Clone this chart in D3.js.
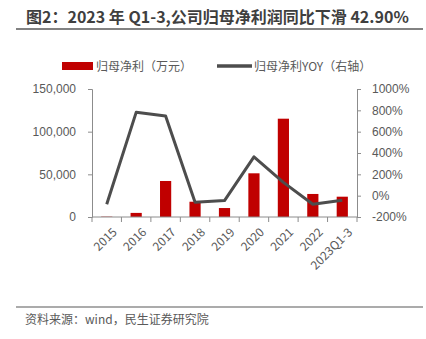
<!DOCTYPE html>
<html>
<head>
<meta charset="utf-8">
<script src="https://cdn.jsdelivr.net/npm/d3@7/dist/d3.min.js"></script>
<style>
  html, body { margin: 0; padding: 0; background: #fff; }
  svg { display: block; font-family: "Noto Sans CJK SC", "Noto Sans", sans-serif; }
</style>
</head>
<body>
<svg id="chart" width="426" height="339"></svg>
<script>
// 归母净利（万元）与同比增速
const categories = ["2015", "2016", "2017", "2018", "2019", "2020", "2021", "2022", "2023Q1-3"];
const netProfit = [400, 4800, 42200, 17900, 10500, 51200, 115200, 27000, 23800];
const netProfitYoY = [-81, 781, 746, -62, -46, 364, 125, -81, -42.9];
const leftTicks = [0, 50000, 100000, 150000];
const rightTicks = [-200, 0, 200, 400, 600, 800, 1000];

const svg = d3.select("#chart");
const W = 426, H = 339;
const margin = { left: 92, right: 69, top: 89, bottom: 122 };
const x0 = margin.left, x1 = W - margin.right;
const yTop = margin.top, yBot = H - margin.bottom;

const x = d3.scaleBand().domain(categories).range([x0, x1]).paddingInner(0.62).paddingOuter(0.31);
const xPt = d3.scaleBand().domain(categories).range([x0, x1]);
const yL = d3.scaleLinear().domain([0, 150000]).range([yBot, yTop]);
const yR = d3.scaleLinear().domain([-200, 1000]).range([yBot, yTop]);

const axisColor = "#8c8c8c";
const textColor = "#595959";

// 标题
svg.append("text")
  .attr("x", 26).attr("y", 23)
  .attr("font-size", 16).attr("font-weight", "bold").attr("fill", "#3f3f3f")
  .text("图2：2023 年 Q1-3,公司归母净利润同比下滑 42.90%");
svg.append("line").attr("x1", 16).attr("x2", 423).attr("y1", 29).attr("y2", 29)
  .attr("stroke", "#595959").attr("stroke-width", 1.5);

// 柱：归母净利
svg.append("g").selectAll("rect").data(netProfit).join("rect")
  .attr("x", (d, i) => x(categories[i]))
  .attr("width", x.bandwidth())
  .attr("y", d => yL(d))
  .attr("height", d => yBot - yL(d))
  .attr("fill", "#c00000");

// 坐标轴
function styleAxis(g) {
  g.selectAll("path, line").attr("stroke", axisColor);
  g.selectAll("text").attr("fill", textColor).attr("font-size", 12);
}
svg.append("g").attr("transform", `translate(${x0},0)`)
  .call(d3.axisLeft(yL).tickValues(leftTicks).tickFormat(d3.format(",")).tickSizeOuter(0).tickSize(4).tickPadding(12))
  .call(styleAxis);
svg.append("g").attr("transform", `translate(${x1},0)`)
  .call(d3.axisRight(yR).tickValues(rightTicks).tickFormat(d => d + "%").tickSizeOuter(0).tickSize(4).tickPadding(11))
  .call(styleAxis);

// 横轴：刻度位于类别分界
const xAxisG = svg.append("g").attr("transform", `translate(0,${yBot})`);
xAxisG.append("line").attr("x1", x0).attr("x2", x1).attr("stroke", axisColor);
const bounds = categories.map(c => xPt(c)).concat([x1]);
xAxisG.selectAll("line.tick").data(bounds).join("line")
  .attr("class", "tick").attr("x1", d => d).attr("x2", d => d).attr("y1", 0).attr("y2", 5)
  .attr("stroke", axisColor);
xAxisG.selectAll("text").data(categories).join("text")
  .attr("transform", c => `translate(${xPt(c) + xPt.bandwidth() / 2 + 5},${10}) rotate(-45)`)
  .attr("text-anchor", "end").attr("dy", "0.7em")
  .attr("font-size", 12).attr("fill", textColor)
  .text(c => c);

// 折线：同比（右轴）
const line = d3.line()
  .x((d, i) => xPt(categories[i]) + xPt.bandwidth() / 2)
  .y(d => yR(d));
svg.append("path").datum(netProfitYoY)
  .attr("d", line).attr("fill", "none")
  .attr("stroke", "#4d4d4d").attr("stroke-width", 3).attr("stroke-linejoin", "round");

// 图例
const lg = svg.append("g").attr("font-size", 12).attr("fill", textColor);
lg.append("rect").attr("x", 62).attr("y", 62).attr("width", 31).attr("height", 8).attr("fill", "#c00000");
lg.append("text").attr("x", 96).attr("y", 70.5).attr("fill", textColor).text("归母净利（万元）");
lg.append("line").attr("x1", 217).attr("x2", 252).attr("y1", 66).attr("y2", 66)
  .attr("stroke", "#4d4d4d").attr("stroke-width", 3.5);
lg.append("text").attr("x", 254).attr("y", 70.5).attr("fill", textColor).text("归母净利YOY（右轴）");

// 资料来源
svg.append("line").attr("x1", 16).attr("x2", 423).attr("y1", 307).attr("y2", 307)
  .attr("stroke", "#595959").attr("stroke-width", 1.2);
svg.append("text").attr("x", 25).attr("y", 324)
  .attr("font-size", 12).attr("fill", textColor)
  .text("资料来源：wind，民生证券研究院");
</script>
</body>
</html>
